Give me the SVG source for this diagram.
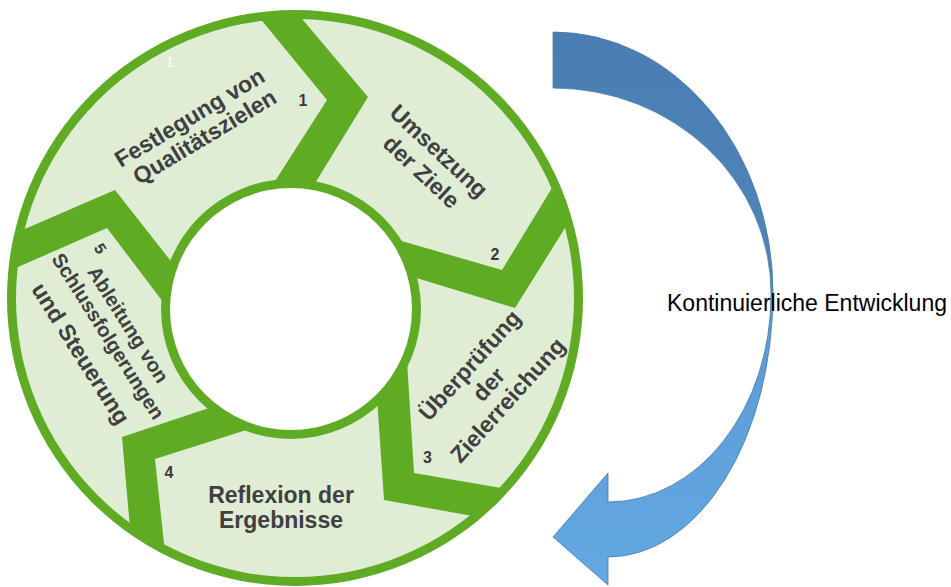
<svg xmlns="http://www.w3.org/2000/svg" width="951" height="587" viewBox="0 0 951 587">
<defs>
<style>
.seg{fill:#dfedd5}
.lbl{font-family:"Liberation Sans",Arial,sans-serif;font-weight:700;font-size:23px;fill:#404040;text-anchor:middle}
.sm{font-size:20px}
.num{font-family:"Liberation Sans",Arial,sans-serif;font-weight:700;font-size:16px;fill:#3a3a3a;text-anchor:middle}
.cap{font-family:"Liberation Sans",Arial,sans-serif;font-size:23px;fill:#000}
</style>
<clipPath id="ringClip"><circle cx="295" cy="298" r="279"/></clipPath>
<linearGradient id="blueGrad" gradientUnits="userSpaceOnUse" x1="0" y1="32" x2="0" y2="585">
<stop offset="0" stop-color="#4a7eb2"/>
<stop offset="0.46" stop-color="#4e85b9"/>
<stop offset="0.5" stop-color="#5b9bd5"/>
<stop offset="1" stop-color="#63a8e3"/>
</linearGradient>
</defs>
<rect width="951" height="587" fill="#fff"/>
<g id="ring">
<circle cx="295" cy="298" r="288" fill="#5fab24"/>
</g>
<g id="node-1">
<polygon class="seg" clip-path="url(#ringClip)" points="186.5,281 170,260 115,190 27,228 1,239 -60,150 60,-60 247,2.5 263,22 327,100 277,178 262,201.4"/>
<text class="lbl" transform="translate(190,118.3) rotate(-31)" y="7">Festlegung von</text>
<text class="lbl" transform="translate(205,137.5) rotate(-31)" y="7">Qualitätszielen</text>
<text class="num" x="303" y="106">1</text>
<text x="166" y="67" style="font-family:'Liberation Sans',Arial,sans-serif;font-size:14px;fill:#fff">1</text>
</g>
<g id="node-2">
<polygon class="seg" clip-path="url(#ringClip)" points="283.5,-3 420,-40 600,60 640,160 567,163.4 552,188 502,270 405,242 376,233.6 301.7,205 317,180 368,97 303,20"/>
<text class="lbl" transform="translate(438.3,151.7) rotate(43)" y="7">Umsetzung</text>
<text class="lbl" transform="translate(420.8,172.5) rotate(43)" y="7">der Ziele</text>
<text class="num" x="495" y="260">2</text>
</g>
<g id="node-3">
<polygon class="seg" clip-path="url(#ringClip)" points="580,204 660,250 640,450 535,494 507,489 414,473 408,377 405,329 395.4,271.6 423,280 515,308 565,228"/>
<text class="lbl" transform="translate(470.3,365.8) rotate(-48)" y="7">Überprüfung</text>
<text class="lbl" transform="translate(489.3,385) rotate(-48)" y="7">der</text>
<text class="lbl" transform="translate(508.3,400.8) rotate(-48)" y="7">Zielerreichung</text>
<text class="num" x="427.5" y="463">3</text>
</g>
<g id="node-4">
<polygon class="seg" clip-path="url(#ringClip)" points="375,368 378,412 384,500 478,517 506,522 480,640 200,640 168,581 165,553 155,459 240,432 282.5,418.5"/>
<text class="lbl" x="281" y="503">Reflexion der</text>
<text class="lbl" x="281" y="528">Ergebnisse</text>
<text class="num" x="169" y="478">4</text>
</g>
<g id="node-5">
<polygon class="seg" clip-path="url(#ringClip)" points="227,402 203,410 122,437 130,528 132.4,555 -50,600 -60,250 -8.7,278.7 18,267 107,228 160,298 176,319"/>
<text class="lbl sm" transform="translate(127.5,325) rotate(57.7)" y="6">Ableitung von</text>
<text class="lbl sm" transform="translate(107.5,336.7) rotate(57.7)" y="6">Schlussfolgerungen</text>
<text class="lbl" transform="translate(80,354) rotate(57.7)" y="7">und Steuerung</text>
<text class="num" transform="translate(100.7,248.3) rotate(57.7)" y="6">5</text>
</g>
<g id="hub">
<circle cx="291" cy="309" r="130" fill="#5fab24"/>
<circle cx="291" cy="309" r="121" fill="#fff"/>
</g>
<g id="connectors">
<path d="M553,32 A220,261 0 0 1 773,293 A165,264 0 0 1 608,557 L608,585 L553,537 L608,473 L608,502 A163,207 0 0 0 771,295 A218,205 0 0 0 553,88 Z" fill="url(#blueGrad)" stroke="#4677a8" stroke-width="0.8"/>
</g>
<g id="label-cycle">
<text class="cap" x="667" y="311">Kontinuierliche Entwicklung</text>
</g>
</svg>
